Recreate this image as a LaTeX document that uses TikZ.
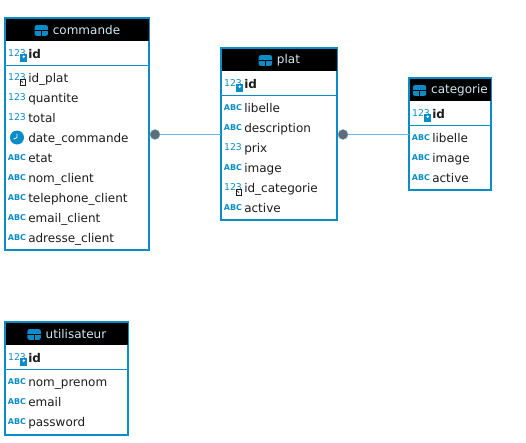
\documentclass[tikz,border=0pt]{standalone}
\usepackage{fontspec}
\setmainfont{DejaVu Sans}
\usetikzlibrary{positioning}

\definecolor{dbblue}{HTML}{0A8CC8}
\definecolor{dblink}{HTML}{6DB9DE}
\definecolor{dbdot}{HTML}{5F6B75}
\definecolor{dbtitle}{HTML}{CFE9F6}
\definecolor{dbink}{HTML}{1C1C1C}

\tikzset{
	tablebox/.style = {draw=dbblue, fill=white, line width=1.5pt, inner sep=0, outer sep=0, anchor=north west},
	headbox/.style = {fill=black, inner sep=0, outer sep=0, anchor=north west},
	headtext/.style = {text=dbtitle, font=\fontsize{9}{9}\selectfont, inner sep=0, outer sep=0},
	rowtext/.style = {text=dbink, font=\fontsize{9}{9}\selectfont, inner sep=0, anchor=base west},
	keytext/.style = {rowtext, font=\fontsize{9}{9}\selectfont\bfseries},
	numlab/.style = {text=dbblue, font=\fontsize{7}{7}\selectfont, inner sep=0},
	abclab/.style = {text=dbblue, font=\fontsize{6}{6}\selectfont\bfseries, inner sep=0},
	keybadge/.style = {fill=dbblue, minimum width=5.2pt, minimum height=5.8pt, inner sep=0, outer sep=0},
	refbadge/.style = {draw=dbink, fill=white, line width=.5pt, minimum width=4.2pt, minimum height=4.2pt, inner sep=0, outer sep=0},
	clockdot/.style = {circle, fill=dbblue, minimum size=10.5pt, inner sep=0, outer sep=0},
	tabicon/.style = {fill=dbblue, rounded corners=1.5pt, minimum width=10pt, minimum height=8pt, inner sep=0, outer sep=0,
		path picture={\draw[black, line width=.5pt]
			(path picture bounding box.west) -- (path picture bounding box.east)
			(path picture bounding box.center) -- (path picture bounding box.south);}},
	reldot/.style = {circle, fill=dbdot, draw=dblink, line width=.3pt, minimum size=7.5pt, inner sep=0, outer sep=0},
	relline/.style = {draw=dblink, line width=.6pt}
}

% icons of a column, #1 = name, #2 = position
\newcommand{\iconabc}[2]{\node[abclab] (#1-ic) at (#2) {ABC};}
\newcommand{\iconnum}[2]{\node[numlab] (#1-ic) at (#2) {123};}
\newcommand{\iconpk}[2]{
	\node[numlab] (#1-ic) at (#2) {123};
	\node[keybadge] (#1-key) at ([xshift=5pt,yshift=-3.6pt]#1-ic.center) {};
	\fill[white] (#1-key.center) ++(0,.8pt) circle (1pt);
}
\newcommand{\iconfk}[2]{
	\node[numlab] (#1-ic) at (#2) {123};
	\node[refbadge] (#1-ref) at ([xshift=4.4pt,yshift=-3.8pt]#1-ic.center) {};
	\draw[dbink, line width=.5pt] (#1-ref.center) -- ++(-1.2pt,1.2pt);
}
\newcommand{\icondat}[2]{
	\node[clockdot] (#1-ic) at (#2) {};
	\draw[white, line width=.6pt] ([yshift=3pt]#1-ic.center) -- (#1-ic.center) -- ++(-2.5pt,-1.2pt);
}

% #1 name, #2 x, #3 y, #4 width, #5 height, #6 rows as kind/label
\newcommand{\dbtable}[6]{
	\node[tablebox, minimum width=#4*.75pt, minimum height=#5*.75pt] (#1) at (#2,#3) {};
	\node[headbox, minimum width=#4*.75pt-.75pt, minimum height=16.5pt] (#1-head) at ({#2+.5},{#3+.5}) {};
	\node[headtext] (#1-title) at ({#2+#4/2+9.5},{#3+12.5}) {#1};
	\node[tabicon, left=3.7pt of #1-title] (#1-icon) {};
	\iconpk{#1-id}{{#2+12},{#3+35}}
	\node[keytext] (#1-idtext) at ({#2+23},{#3+40}) {id};
	\draw[dbblue, line width=.75pt] (#2,{#3+47.5}) -- ({#2+#4},{#3+47.5});
	\foreach \kind/\lab [count=\i] in {#6} {
		\csname icon\kind\endcsname{#1-\i}{{#2+12},{#3+39.5+20*\i}}
		\node[rowtext] (#1-\i-text) at ({#2+23},{#3+40+20*\i+4.5}) {\lab};
	}
}

\begin{document}
\begin{tikzpicture}[x=.75pt, y=-.75pt]
	\useasboundingbox (0,0) rectangle (526,443);
	% Tables
	\dbtable{commande}{5}{18}{144}{232}{fk/id\_plat, num/quantite, num/total, dat/date\_commande, abc/etat, abc/nom\_client, abc/telephone\_client, abc/email\_client, abc/adresse\_client}
	\dbtable{plat}{221}{48}{116}{172}{abc/libelle, abc/description, num/prix, abc/image, fk/id\_categorie, abc/active}
	\dbtable{categorie}{409}{78}{82}{112}{abc/libelle, abc/image, abc/active}
	\dbtable{utilisateur}{5}{322}{123}{113}{abc/nom\_prenom, abc/email, abc/password}
	% Links
	\node[reldot] (dotcommande) at (155,134.5) {};
	\node[reldot] (dotplat) at (343,134.5) {};
	\path[relline] (dotcommande) -- (plat.west |- dotcommande);
	\path[relline] (dotplat) -- (categorie.west |- dotplat);
\end{tikzpicture}
\end{document}
